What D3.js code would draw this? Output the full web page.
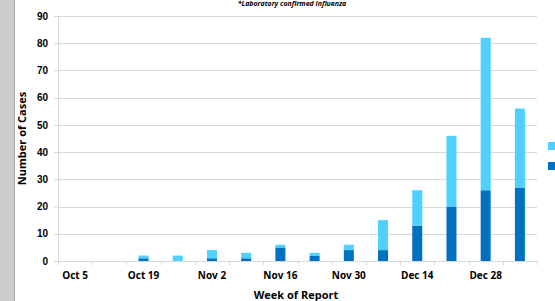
<!DOCTYPE html>
<html>
<head>
<meta charset="utf-8">
<script src="https://cdn.jsdelivr.net/npm/d3@7"></script>
<style>
  body { margin: 0; background: #fff; }
  svg { display: block; font-family: "Open Sans", "Liberation Sans", sans-serif; }
</style>
</head>
<body>
<div id="chart"></div>
<script>
// weeks of report
const weeks = ['Oct 5', 'Oct 12', 'Oct 19', 'Oct 26', 'Nov 2', 'Nov 9', 'Nov 16',
  'Nov 23', 'Nov 30', 'Dec 7', 'Dec 14', 'Dec 21', 'Dec 28', 'Jan 4'];
// lower (dark) series
const darkCases = [0, 0, 1, 0, 1, 1, 5, 2, 4, 4, 13, 20, 26, 27];
// upper (light) series
const lightCases = [0, 0, 1, 2, 3, 2, 1, 1, 2, 11, 13, 26, 56, 29];
const labeledWeeks = ['Oct 5', 'Oct 19', 'Nov 2', 'Nov 16', 'Nov 30', 'Dec 14', 'Dec 28'];
const yTicks = [0, 10, 20, 30, 40, 50, 60, 70, 80, 90];

const W = 555, H = 301;
const margin = { top: 16, right: 18, bottom: 40, left: 58 };
const innerW = W - margin.left - margin.right;
const innerH = H - margin.top - margin.bottom;

const svg = d3.select('#chart').append('svg')
  .attr('width', W).attr('height', H);

// grey strip on the left
svg.append('rect').attr('x', 0).attr('y', 0).attr('width', 14).attr('height', H).attr('fill', '#cdcdcd');
svg.append('line').attr('x1', 14.5).attr('x2', 14.5).attr('y1', 0).attr('y2', H)
  .attr('stroke', '#a8a8a8');

const g = svg.append('g').attr('transform', `translate(${margin.left},${margin.top})`);

const x = d3.scaleBand().domain(weeks).range([0, innerW]);
const y = d3.scaleLinear().domain([0, 90]).range([innerH, 0]);

// gridlines
g.selectAll('.grid').data(yTicks.slice(1)).join('line')
  .attr('x1', 0).attr('x2', innerW)
  .attr('y1', d => Math.round(y(d)) + 0.5).attr('y2', d => Math.round(y(d)) + 0.5)
  .attr('stroke', '#d9d9d9');

// y axis
const yAxis = g.append('g').call(d3.axisLeft(y).tickValues(yTicks).tickSize(4).tickPadding(6));
yAxis.select('.domain').attr('stroke', '#d9d9d9');
yAxis.selectAll('.tick line').attr('stroke', '#d9d9d9');
yAxis.selectAll('text').attr('font-size', 10).attr('font-weight', 'bold').attr('fill', '#000');

// x axis with ticks on category boundaries
const xAxisG = g.append('g').attr('transform', `translate(0,${innerH})`);
xAxisG.append('line').attr('x1', 0).attr('x2', innerW).attr('y1', 0.5).attr('y2', 0.5)
  .attr('stroke', '#d9d9d9');
xAxisG.selectAll('.bnd').data(weeks.concat(['end'])).join('line')
  .attr('x1', (d, i) => Math.round(x.step() * i) + 0.5)
  .attr('x2', (d, i) => Math.round(x.step() * i) + 0.5)
  .attr('y1', 0).attr('y2', 4).attr('stroke', '#d9d9d9');
xAxisG.selectAll('.lbl').data(labeledWeeks).join('text')
  .attr('x', d => x(d) + x.bandwidth() / 2)
  .attr('y', 18)
  .attr('text-anchor', 'middle')
  .attr('font-size', 10).attr('font-weight', 'bold')
  .text(d => d);

// stacked bars
const barW = 10;
const rows = weeks.map((w, i) => ({ week: w, dark: darkCases[i], light: lightCases[i] }));
g.selectAll('.dark').data(rows.filter(d => d.dark > 0)).join('rect')
  .attr('x', d => x(d.week) + x.bandwidth() / 2 - barW / 2)
  .attr('y', d => y(d.dark))
  .attr('width', barW)
  .attr('height', d => y(0) - y(d.dark))
  .attr('fill', '#0070c0');
g.selectAll('.light').data(rows.filter(d => d.light > 0)).join('rect')
  .attr('x', d => x(d.week) + x.bandwidth() / 2 - barW / 2)
  .attr('y', d => y(d.dark + d.light))
  .attr('width', barW)
  .attr('height', d => y(d.dark) - y(d.dark + d.light))
  .attr('fill', '#4fd1ff');

// axis titles
svg.append('text')
  .attr('transform', `translate(26,${margin.top + innerH / 2}) rotate(-90)`)
  .attr('text-anchor', 'middle')
  .attr('font-size', 11).attr('font-weight', 'bold')
  .text('Number of Cases');
svg.append('text')
  .attr('x', 296).attr('y', 299)
  .attr('text-anchor', 'middle')
  .attr('font-size', 11).attr('font-weight', 'bold')
  .text('Week of Report');

// subtitle at the top
svg.append('text')
  .attr('x', 292).attr('y', 6)
  .attr('text-anchor', 'middle')
  .attr('font-size', 7).attr('font-weight', 'bold').attr('font-style', 'italic')
  .text('*Laboratory confirmed influenza');

// legend swatches (labels are off-canvas)
svg.append('rect').attr('x', 548).attr('y', 142).attr('width', 8).attr('height', 8).attr('fill', '#4fd1ff');
svg.append('rect').attr('x', 548).attr('y', 162).attr('width', 8).attr('height', 8).attr('fill', '#0070c0');
</script>
</body>
</html>
